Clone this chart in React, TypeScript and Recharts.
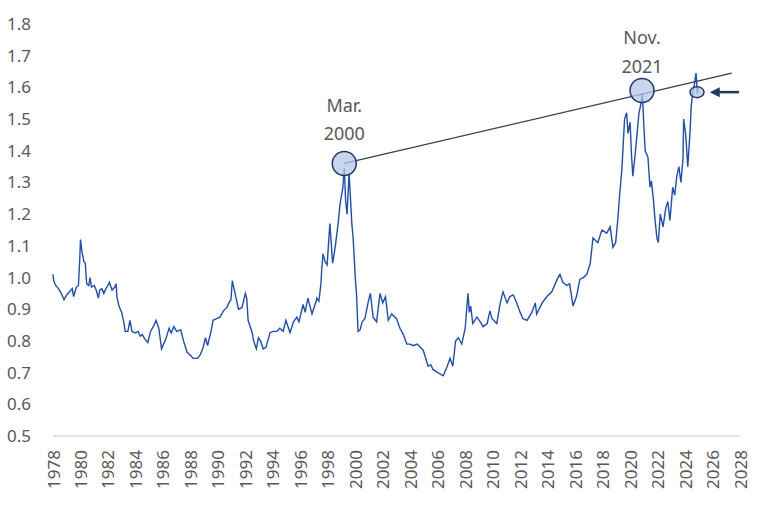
import React from 'react';
import {
  LineChart,
  Line,
  XAxis,
  YAxis,
  ReferenceLine,
  ReferenceDot,
} from 'recharts';

const COLORS = {
  line: '#1E4DB7',
  trend: '#2F3E5C',
  circleFill: '#B4C7E7',
  circleStroke: '#1F3864',
  arrow: '#1F3864',
  axis: '#D9D9D9',
  text: '#595959',
};

const FONT = '"Noto Sans", sans-serif';

// [year, ratio]
const points: [number, number][] = [
  [1978.0, 1.01], [1978.05, 0.99], [1978.2, 0.975], [1978.4, 0.965], [1978.6, 0.95],
  [1978.8, 0.93], [1979.0, 0.945], [1979.2, 0.955], [1979.4, 0.965], [1979.5, 0.94],
  [1979.7, 0.97], [1979.85, 0.975], [1979.95, 1.06], [1980.0, 1.12], [1980.1, 1.085],
  [1980.25, 1.05], [1980.35, 1.045], [1980.45, 0.98], [1980.6, 0.975], [1980.7, 1.0],
  [1980.8, 0.97], [1981.0, 0.975], [1981.15, 0.96], [1981.3, 0.935], [1981.4, 0.96],
  [1981.55, 0.965], [1981.7, 0.95], [1981.85, 0.965], [1982.0, 0.975], [1982.1, 0.985],
  [1982.3, 0.96], [1982.5, 0.97], [1982.6, 0.98], [1982.65, 0.94], [1982.8, 0.91],
  [1983.0, 0.89], [1983.15, 0.86], [1983.25, 0.83], [1983.45, 0.83], [1983.6, 0.865],
  [1983.75, 0.83], [1984.0, 0.825], [1984.2, 0.83], [1984.35, 0.815], [1984.5, 0.82],
  [1984.7, 0.805], [1984.9, 0.795], [1985.1, 0.83], [1985.3, 0.845], [1985.5, 0.865],
  [1985.7, 0.84], [1985.9, 0.775], [1986.2, 0.805], [1986.45, 0.84], [1986.6, 0.825],
  [1986.8, 0.845], [1987.0, 0.83], [1987.3, 0.835], [1987.5, 0.8], [1987.75, 0.765],
  [1988.0, 0.755], [1988.2, 0.745], [1988.5, 0.745], [1988.7, 0.755], [1988.9, 0.775],
  [1989.1, 0.81], [1989.25, 0.785], [1989.5, 0.83], [1989.65, 0.865], [1989.9, 0.87],
  [1990.15, 0.875], [1990.4, 0.895], [1990.65, 0.905], [1990.8, 0.92], [1990.95, 0.93],
  [1991.05, 0.99], [1991.25, 0.95], [1991.5, 0.9], [1991.75, 0.905], [1992.0, 0.95],
  [1992.1, 0.935], [1992.2, 0.865], [1992.5, 0.826], [1992.6, 0.8], [1992.8, 0.775],
  [1992.95, 0.81], [1993.1, 0.8], [1993.3, 0.775], [1993.5, 0.78], [1993.8, 0.826],
  [1994.0, 0.83], [1994.3, 0.83], [1994.5, 0.84], [1994.75, 0.83], [1994.95, 0.865],
  [1995.25, 0.826], [1995.5, 0.86], [1995.75, 0.875], [1995.9, 0.86], [1996.2, 0.915],
  [1996.35, 0.89], [1996.55, 0.935], [1996.85, 0.885], [1997.15, 0.925], [1997.2, 0.935],
  [1997.35, 0.925], [1997.5, 0.98], [1997.55, 1.02], [1997.65, 1.075], [1997.8, 1.05],
  [1997.95, 1.04], [1998.15, 1.17], [1998.35, 1.045], [1998.55, 1.1], [1998.75, 1.17],
  [1998.9, 1.235], [1999.1, 1.285], [1999.2, 1.345], [1999.3, 1.24], [1999.4, 1.2],
  [1999.55, 1.33], [1999.75, 1.17], [1999.85, 1.12], [2000.0, 1.0], [2000.1, 0.94],
  [2000.2, 0.83], [2000.35, 0.835], [2000.5, 0.86], [2000.7, 0.87], [2000.95, 0.925],
  [2001.1, 0.95], [2001.3, 0.875], [2001.55, 0.86], [2001.8, 0.95], [2002.0, 0.92],
  [2002.2, 0.94], [2002.4, 0.865], [2002.65, 0.885], [2003.0, 0.87], [2003.25, 0.84],
  [2003.5, 0.82], [2003.75, 0.79], [2004.0, 0.79], [2004.2, 0.785], [2004.5, 0.79],
  [2004.75, 0.78], [2004.95, 0.77], [2005.3, 0.72], [2005.5, 0.725], [2005.65, 0.71],
  [2006.0, 0.7], [2006.4, 0.69], [2006.65, 0.715], [2006.9, 0.745], [2007.1, 0.72],
  [2007.3, 0.8], [2007.5, 0.81], [2007.75, 0.79], [2008.0, 0.84], [2008.2, 0.95],
  [2008.3, 0.89], [2008.4, 0.91], [2008.55, 0.855], [2008.85, 0.875], [2009.1, 0.86],
  [2009.3, 0.845], [2009.6, 0.855], [2009.8, 0.895], [2009.95, 0.87], [2010.3, 0.855],
  [2010.55, 0.92], [2010.75, 0.955], [2011.05, 0.92], [2011.25, 0.94], [2011.5, 0.945],
  [2011.75, 0.92], [2012.0, 0.89], [2012.2, 0.87], [2012.5, 0.865], [2012.85, 0.89],
  [2013.1, 0.92], [2013.2, 0.885], [2013.6, 0.92], [2013.95, 0.94], [2014.3, 0.955],
  [2014.7, 0.995], [2014.9, 1.01], [2015.1, 0.985], [2015.4, 0.975], [2015.6, 0.98],
  [2015.85, 0.91], [2016.1, 0.94], [2016.35, 0.995], [2016.6, 1.0], [2016.85, 1.01],
  [2017.1, 1.045], [2017.3, 1.125], [2017.65, 1.11], [2017.95, 1.15], [2018.3, 1.14],
  [2018.55, 1.16], [2018.75, 1.095], [2018.95, 1.11], [2019.1, 1.18], [2019.25, 1.265],
  [2019.4, 1.34], [2019.5, 1.42], [2019.6, 1.5], [2019.75, 1.52], [2019.85, 1.455],
  [2020.0, 1.49], [2020.1, 1.39], [2020.2, 1.32], [2020.35, 1.38], [2020.5, 1.45],
  [2020.65, 1.52], [2020.8, 1.55], [2020.9, 1.58], [2021.0, 1.48], [2021.1, 1.4],
  [2021.3, 1.38], [2021.45, 1.285], [2021.55, 1.305], [2021.7, 1.245], [2021.8, 1.19],
  [2021.95, 1.125], [2022.05, 1.11], [2022.2, 1.2], [2022.4, 1.16], [2022.6, 1.22],
  [2022.75, 1.24], [2022.9, 1.18], [2023.1, 1.285], [2023.25, 1.26], [2023.4, 1.32],
  [2023.55, 1.35], [2023.7, 1.3], [2023.85, 1.375], [2023.9, 1.5], [2024.05, 1.45],
  [2024.2, 1.35], [2024.35, 1.45], [2024.45, 1.54], [2024.55, 1.58], [2024.65, 1.6],
  [2024.8, 1.645], [2024.9, 1.58], [2024.95, 1.6],
];

const xTicks = [
  1978, 1980, 1982, 1984, 1986, 1988, 1990, 1992, 1994, 1996, 1998, 2000, 2002,
  2004, 2006, 2008, 2010, 2012, 2014, 2016, 2018, 2020, 2022, 2024, 2026, 2028,
];
const yTicks = [0.5, 0.6, 0.7, 0.8, 0.9, 1.0, 1.1, 1.2, 1.3, 1.4, 1.5, 1.6, 1.7, 1.8];

// highlighted peaks
const peaks = [
  { x: 1999.2, y: 1.36, lines: ['Mar.', '2000'], textY: [1.545, 1.455] },
  { x: 2020.87, y: 1.59, lines: ['Nov.', '2021'], textY: [1.76, 1.668] },
];
const trendStart = { x: 1999.2, y: 1.36 };
const trendEnd = { x: 2027.4, y: 1.645 };
const latest = { x: 2024.87, y: 1.585 };
const arrow = { from: 2027.93, to: 2025.8, y: 1.585 };

const data = points.map(([year, value]) => ({ year, value }));

const YearTick = (props: any) => {
  const { x, y, payload } = props;
  return (
    <text
      x={x}
      y={y}
      transform={`rotate(-90 ${x} ${y})`}
      textAnchor="end"
      dominantBaseline="central"
      fill={COLORS.text}
      fontSize={17}
      fontFamily={FONT}
    >
      {payload.value}
    </text>
  );
};

const ArrowShape = (props: any) => {
  const { x1, y1, x2, y2 } = props;
  if (x1 == null) return null;
  // arrow points toward x2
  return (
    <g>
      <line x1={x1} y1={y1} x2={x2 + 8} y2={y2} stroke={COLORS.arrow} strokeWidth={2.5} />
      <polygon
        points={`${x2},${y2} ${x2 + 10},${y2 - 5} ${x2 + 10},${y2 + 5}`}
        fill={COLORS.arrow}
      />
    </g>
  );
};

export default function App() {
  return (
    <div style={{ position: 'absolute', left: 0, top: 0, background: '#fff' }}>
      <LineChart
        width={768}
        height={506}
        data={data}
        margin={{ top: 24, right: 28, bottom: 0, left: 0 }}
      >
        <XAxis
          dataKey="year"
          type="number"
          domain={[1978, 2028]}
          ticks={xTicks}
          interval={0}
          tick={<YearTick />}
          tickLine={false}
          tickSize={6}
          tickMargin={8}
          axisLine={{ stroke: COLORS.axis, strokeWidth: 1.5 }}
          height={70}
        />
        <YAxis
          type="number"
          domain={[0.5, 1.8]}
          ticks={yTicks}
          interval={0}
          tickFormatter={(v: number) => v.toFixed(1)}
          tick={{ fill: COLORS.text, fontSize: 17, fontFamily: FONT }}
          axisLine={false}
          tickLine={false}
          tickMargin={16}
          width={53}
        />
        <Line
          type="linear"
          dataKey="value"
          stroke={COLORS.line}
          strokeWidth={1.4}
          dot={false}
          isAnimationActive={false}
        />
        <ReferenceLine
          segment={[trendStart, trendEnd]}
          stroke={COLORS.trend}
          strokeWidth={1.2}
          ifOverflow="visible"
        />
        {peaks.map((p) => (
          <ReferenceDot
            key={p.lines[1]}
            x={p.x}
            y={p.y}
            r={12}
            fill={COLORS.circleFill}
            fillOpacity={0.75}
            stroke={COLORS.circleStroke}
            strokeWidth={1.5}
            ifOverflow="visible"
          />
        ))}
        {peaks.map((p) =>
          p.lines.map((t, i) => (
            <ReferenceDot
              key={t}
              x={p.x}
              y={p.textY[i]}
              r={0}
              ifOverflow="visible"
              shape={(s: any) => (
                <text
                  x={s.cx}
                  y={s.cy}
                  textAnchor="middle"
                  dominantBaseline="central"
                  fill={COLORS.text}
                  fontSize={18}
                  fontFamily={FONT}
                >
                  {t}
                </text>
              )}
            />
          ))
        )}
        <ReferenceDot
          x={latest.x}
          y={latest.y}
          r={6}
          ifOverflow="visible"
          shape={(s: any) => (
            <ellipse
              cx={s.cx}
              cy={s.cy}
              rx={7}
              ry={5.5}
              fill={COLORS.circleFill}
              fillOpacity={0.75}
              stroke={COLORS.circleStroke}
              strokeWidth={1.5}
            />
          )}
        />
        <ReferenceLine
          segment={[
            { x: arrow.from, y: arrow.y },
            { x: arrow.to, y: arrow.y },
          ]}
          ifOverflow="visible"
          shape={<ArrowShape />}
        />
      </LineChart>
    </div>
  );
}
